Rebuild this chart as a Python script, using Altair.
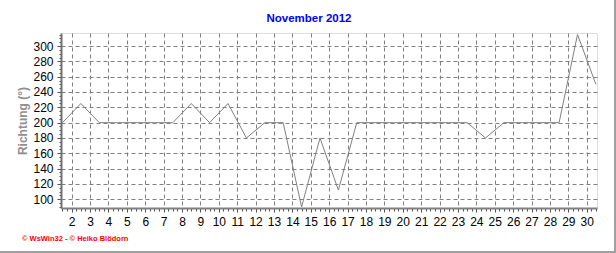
import altair as alt
import pandas as pd

# Daily wind direction values (plotted at mid-day positions)
days = [1.5, 2.5, 3.5, 4.5, 5.5, 6.5, 7.5, 8.5, 9.5, 10.5,
        11.5, 12.5, 13.5, 14.5, 15.5, 16.5, 17.5, 18.5, 19.5, 20.5,
        21.5, 22.5, 23.5, 24.5, 25.5, 26.5, 27.5, 28.5, 29.5, 30.5]
richtung = [200, 225, 200, 200, 200, 200, 200, 225, 200, 225,
            180, 200, 200, 90, 180, 112, 200, 200, 200, 200,
            200, 200, 200, 180, 200, 200, 200, 200, 315, 250]

x_labels = list(range(2, 31))
y_labels = list(range(100, 301, 20))
x_ticks = [1.5 + 0.25 * i for i in range(117)]
y_ticks = list(range(90, 316, 5))

title_text = "November 2012"
y_title = "Richtung  (°)"
footer_text = "© WsWin32  -  © Heiko Blödorn"

df = pd.DataFrame({"tag": days, "richtung": richtung})

FONT = "Liberation Sans"
GRID = "#808080"

x_axis = alt.Axis(
    values=x_ticks,
    labelExpr="datum.value % 1 === 0 ? '' + datum.value : ''",
    labelOverlap=False,
    labelFlush=False,
    labelFont=FONT,
    labelFontSize=12,
    labelColor="black",
    labelPadding=4,
    grid=True,
    gridDash=[4, 3],
    gridColor=GRID,
    gridWidth=1,
    gridOpacity={"condition": {"test": "datum.value % 1 === 0", "value": 1}, "value": 0},
    tickSize={"condition": {"test": "datum.value % 1 === 0", "value": 4}, "value": 3},
    tickColor="#505050",
    domainColor="#808080",
    domainWidth=2,
    title=None,
)

y_axis = alt.Axis(
    values=y_ticks,
    labelExpr="datum.value % 20 === 0 && datum.value >= 100 && datum.value <= 300 ? '' + datum.value : ''",
    labelOverlap=False,
    labelFlush=False,
    labelFont=FONT,
    labelFontSize=12,
    labelColor="black",
    labelPadding=4,
    grid=True,
    gridDash=[4, 3],
    gridColor=GRID,
    gridWidth=1,
    gridOpacity={"condition": {"test": "datum.value % 20 === 0 && datum.value >= 100", "value": 1}, "value": 0},
    tickSize={"condition": {"test": "datum.value % 20 === 0", "value": 4}, "value": 2},
    tickColor="#505050",
    domainColor="#707070",
    domainWidth=2,
    title=y_title,
    titleFont=FONT,
    titleFontSize=12,
    titleFontWeight="bold",
    titleColor="#909090",
    titleAngle=-90,
    titleX=-39,
    titleY=87.5,
    titleAlign="center",
    titleBaseline="middle",
)

line = alt.Chart(df).mark_line(color="#808080", strokeWidth=1, clip=True).encode(
    x=alt.X("tag:Q", scale=alt.Scale(domain=[1.42, 30.56], nice=False, zero=False), axis=x_axis),
    y=alt.Y("richtung:Q", scale=alt.Scale(domain=[88.6, 317], nice=False, zero=False), axis=y_axis),
)

one = pd.DataFrame({"t": [footer_text], "h": [title_text]})

title = alt.Chart(one).mark_text(
    align="center", baseline="middle", color="#0000FF", fontSize=11.5,
    fontWeight="bold", font=FONT
).encode(x=alt.value(248), y=alt.value(-14), text="h:N")

footer = alt.Chart(one).mark_text(
    align="left", baseline="middle", color="#FF0000", fontSize=7.5,
    fontWeight="bold", font=FONT
).encode(x=alt.value(-39), y=alt.value(206), text="t:N")

border_right = alt.Chart(one).mark_rule(color="#a0a0a0", strokeWidth=2).encode(
    x=alt.value(554), y=alt.value(-33), y2=alt.value(220)
)
border_bottom = alt.Chart(one).mark_rule(color="#a0a0a0", strokeWidth=2).encode(
    x=alt.value(-61), x2=alt.value(555), y=alt.value(219)
)

chart = alt.layer(line, title, footer, border_right, border_bottom).properties(
    width=536,
    height=175,
    autosize=alt.AutoSizeParams(type="none"),
    padding={"left": 61, "top": 33, "right": 19, "bottom": 45},
).configure_view(stroke="black", strokeWidth=1).configure(background="white")

chart.save("out.html", embed_options={"renderer": "svg", "actions": False})
